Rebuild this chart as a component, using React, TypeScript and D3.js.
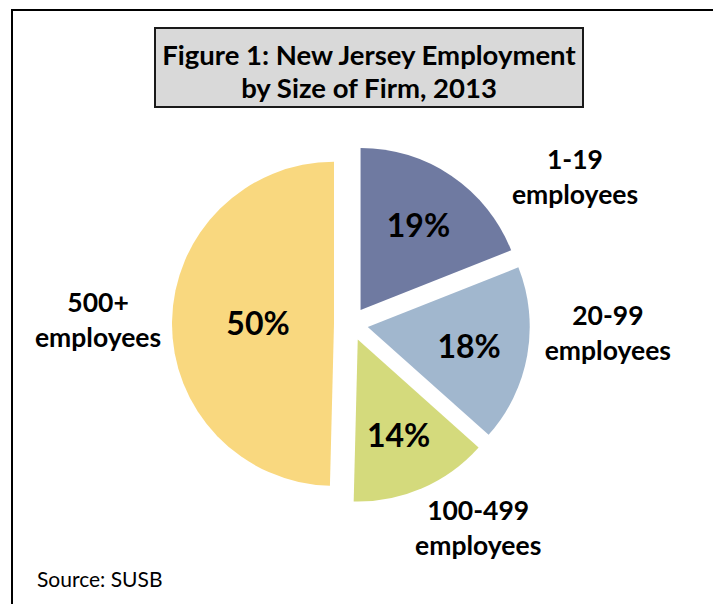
import React from "react";
import * as d3 from "d3";

// chart data
const categories = ["1-19 employees", "20-99 employees", "100-499 employees", "500+ employees"];
const labelLines = [
  ["1-19", "employees"],
  ["20-99", "employees"],
  ["100-499", "employees"],
  ["500+", "employees"],
];
const shares = [19.0, 17.6, 13.8, 49.6];
const pctLabels = ["19%", "18%", "14%", "50%"];
const colors = ["#6F7AA1", "#A1B7CE", "#D4DA7C", "#F9D87F"];

const titleLines = ["Figure 1: New Jersey Employment", "by Size of Firm, 2013"];
const source = "Source: SUSB";

// layout
const W = 713;
const H = 604;
const cx = 351;
const cy = 324;
const radius = 162;
const explode = 17;
// outer label placement (degrees clockwise from 12 o'clock, distance from pie centre)
const outerAngle = [56.7, 92, 148, 271];
const outerDist = [268, 257, 240, 253];

const font = "Lato, Carlito, 'Open Sans', sans-serif";

export default function App() {
  const pie = d3.pie<number>().sort(null).value((d) => d);
  const arcs = pie(shares);
  const arc = d3.arc<d3.PieArcDatum<number>>().innerRadius(0).outerRadius(radius);

  return (
    <svg
      width={W}
      height={H}
      style={{ position: "absolute", left: 0, top: 0, background: "#fff" }}
      fontFamily={font}
    >
      <rect x={12} y={10} width={W + 20} height={H + 20} fill="#fff" stroke="#000" strokeWidth={2} />

      <rect x={155} y={28} width={428} height={79} fill="#D9D9D9" stroke="#1a1a1a" strokeWidth={2} />
      {titleLines.map((t, i) => (
        <text key={t} x={369} y={65 + i * 32.5} textAnchor="middle" fontSize={27.5} fontWeight={700} fill="#000">
          {t}
        </text>
      ))}

      <g transform={`translate(${cx},${cy})`}>
        {arcs.map((a, i) => {
          const mid = (a.startAngle + a.endAngle) / 2;
          const dx = Math.sin(mid) * explode;
          const dy = -Math.cos(mid) * explode;
          const lr = a.data > 40 ? 76 : 103;
          return (
            <g key={categories[i]} transform={`translate(${dx},${dy})`}>
              <path d={arc(a) || ""} fill={colors[i]} />
              <text
                x={Math.sin(mid) * lr}
                y={-Math.cos(mid) * lr}
                textAnchor="middle"
                dominantBaseline="central"
                fontSize={32}
                fontWeight={700}
                fill="#000"
              >
                {pctLabels[i]}
              </text>
            </g>
          );
        })}
        {labelLines.map((lines, i) => {
          const ang = (outerAngle[i] * Math.PI) / 180;
          const x = Math.sin(ang) * outerDist[i];
          const y = -Math.cos(ang) * outerDist[i];
          return (
            <text key={categories[i]} textAnchor="middle" fontSize={26.5} fontWeight={700} fill="#000">
              {lines.map((l, j) => (
                <tspan key={j} x={x} y={y + (j - 0.5) * 35} dominantBaseline="central">
                  {l}
                </tspan>
              ))}
            </text>
          );
        })}
      </g>

      <text x={37} y={587} fontSize={21} fill="#000">
        {source}
      </text>
    </svg>
  );
}
